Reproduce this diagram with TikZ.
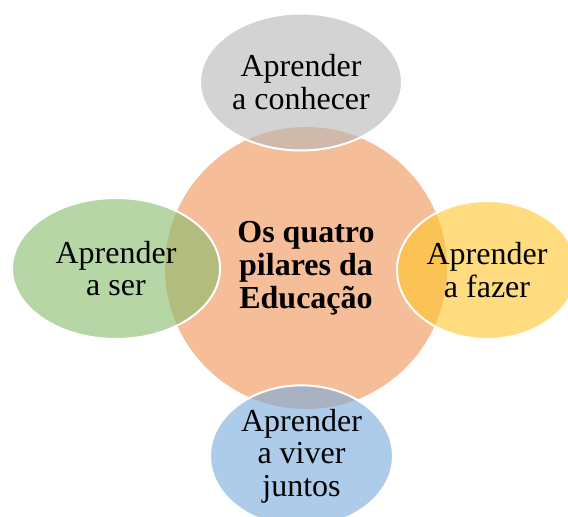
\documentclass[tikz,border=0pt]{standalone}
\usepackage{fontspec}
\setmainfont{Liberation Serif}
\usetikzlibrary{shapes.geometric}

\definecolor{pilarCentro}{RGB}{245,190,152}
\definecolor{pilarCinza}{RGB}{182,182,182}
\definecolor{pilarVerde}{RGB}{133,187,107}
\definecolor{pilarAmarelo}{RGB}{255,197,43}
\definecolor{pilarAzul}{RGB}{118,170,220}

\tikzset{
  pilar/.style={ellipse, draw=white, line width=1.5pt, fill opacity=0.6,
    text opacity=1, inner sep=0pt, align=center,
    font=\fontsize{24}{24.5}\selectfont},
  centro/.style={circle, fill=pilarCentro, inner sep=0pt, align=center,
    font=\fontsize{24}{24.75}\selectfont\bfseries}
}

\begin{document}
\begin{tikzpicture}[x=0.75pt,y=-0.75pt]
  \useasboundingbox (0,0) rectangle (568,517);

  % centre
  \node[centro, minimum size=211.5pt] (educacao) at (306,268)
    {Os quatro\\pilares da\\Educação};

  % the four pillars
  \begin{scope}
    \node[pilar, fill=pilarCinza, minimum width=151.5pt, minimum height=102.75pt]
      (conhecer) at (301,82) {Aprender\\a conhecer};
    \node[pilar, fill=pilarVerde, minimum width=156pt, minimum height=105.75pt]
      (ser) at (116,268.5) {Aprender\\a ser};
    \node[pilar, fill=pilarAmarelo, minimum width=135pt, minimum height=103.5pt]
      (fazer) at (487,270) {Aprender\\a fazer};
    \node[pilar, fill=pilarAzul, minimum width=137.25pt, minimum height=106pt]
      (juntos) at (301.5,456) {Aprender\\a viver\\juntos};
  \end{scope}
\end{tikzpicture}
\end{document}
